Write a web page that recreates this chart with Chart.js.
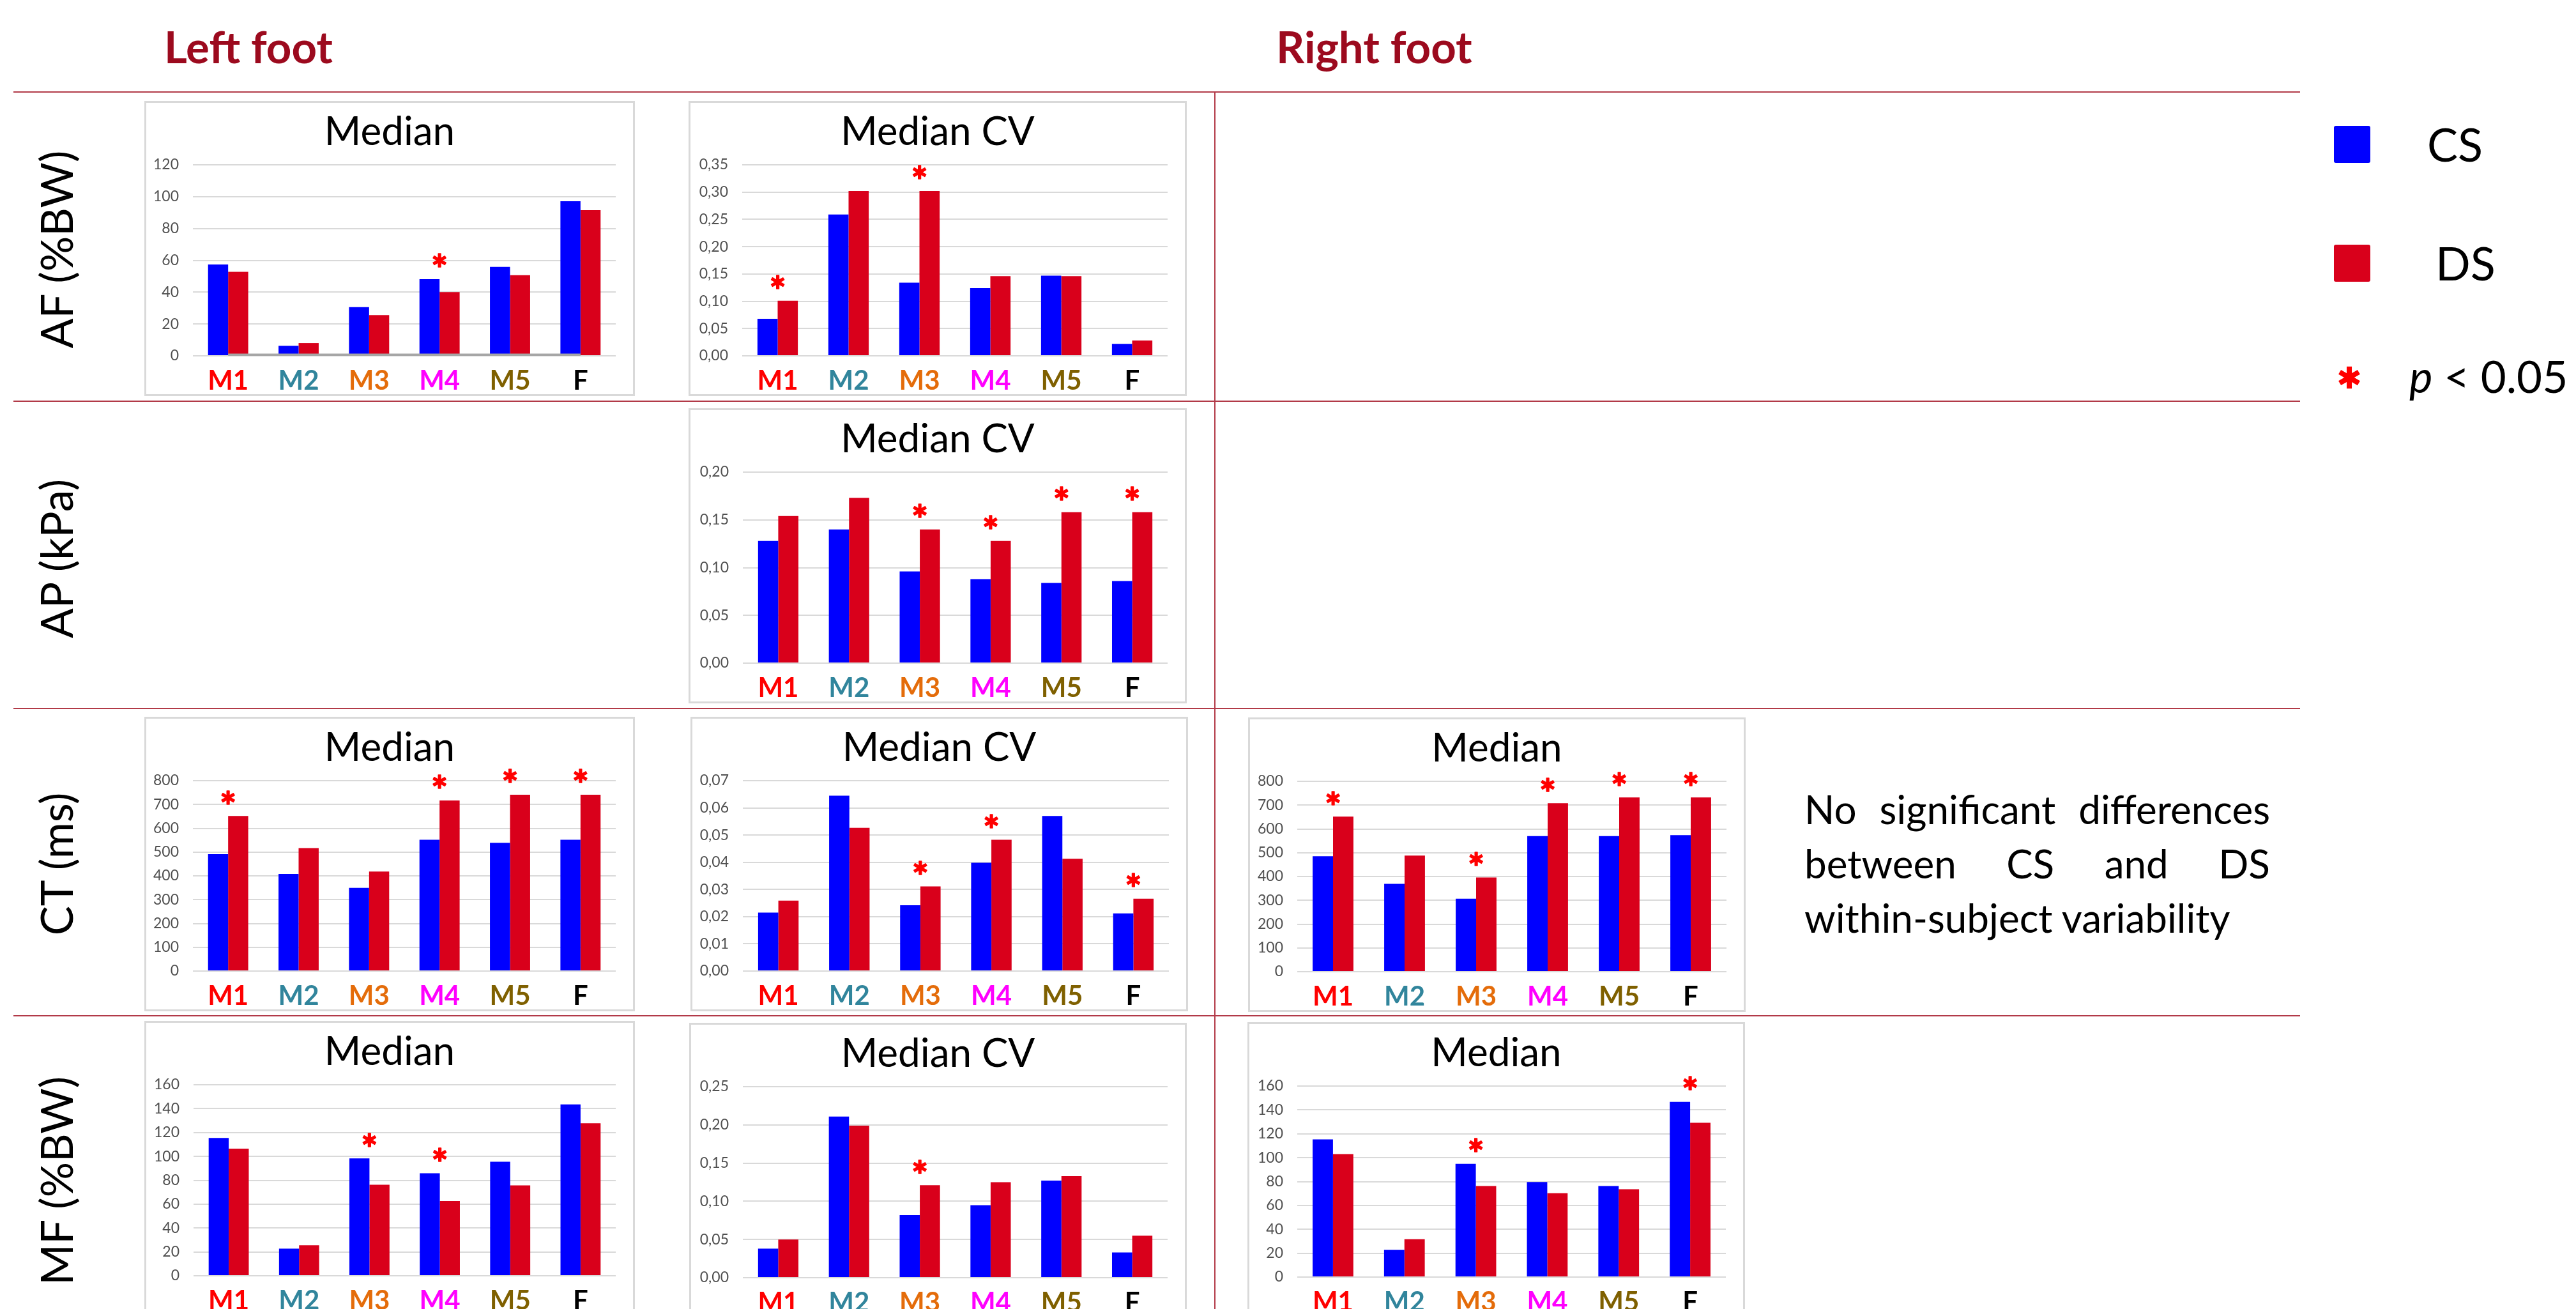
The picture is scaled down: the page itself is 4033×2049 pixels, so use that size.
<!DOCTYPE html>
<html>
<head>
<meta charset="utf-8">
<script src="https://cdn.jsdelivr.net/npm/chart.js"></script>
<style>
  html, body { margin: 0; padding: 0; background: #fff; }
  body { position: relative; width: 4033px; height: 2049px; overflow: hidden; font-family: Lato, sans-serif; }
  .rule { position: absolute; background: #B23A48; }
  .txt { position: absolute; white-space: pre; font-family: Lato, sans-serif; }
  .swatch { position: absolute; border-radius: 3px; }
  .note { position: absolute; font-family: Lato, sans-serif; color: #000; }
  .note div { white-space: nowrap; }
  .note .just { text-align: justify; text-align-last: justify; white-space: normal; }
</style>
</head>
<body>
<script>
// ---- categories and colours of the axis labels ----
const categories = ['M1', 'M2', 'M3', 'M4', 'M5', 'F'];
const categoryColors = ['#FF0000', '#31859C', '#E46C0A', '#FF00FF', '#7F6000', '#000000'];
const seriesNames = ['CS', 'DS'];

// ---- AF (%BW), left foot: median ----
const afLeftMedianCS = [57.4, 6.3, 30.6, 48.2, 55.9, 97.1];
const afLeftMedianDS = [52.8, 8.0, 25.6, 40.0, 50.7, 91.5];
const afLeftMedianRef = [0.4, 0.4, 0.4, 0.4, 0.4, 0.4];
const afLeftMedianSig = [0, 0, 0, 1, 0, 0];
const afMedianTicks = [0, 20, 40, 60, 80, 100, 120];

// ---- AF (%BW), left foot: median CV ----
const afLeftCvCS = [0.068, 0.259, 0.134, 0.124, 0.147, 0.022];
const afLeftCvDS = [0.101, 0.302, 0.302, 0.146, 0.146, 0.028];
const afLeftCvSig = [1, 0, 1, 0, 0, 0];
const afCvTicks = [0, 0.05, 0.10, 0.15, 0.20, 0.25, 0.30, 0.35];

// ---- AP (kPa), left foot: median CV ----
const apLeftCvCS = [0.128, 0.140, 0.096, 0.088, 0.084, 0.086];
const apLeftCvDS = [0.154, 0.173, 0.140, 0.128, 0.158, 0.158];
const apLeftCvSig = [0, 0, 1, 1, 1, 1];
const apCvTicks = [0, 0.05, 0.10, 0.15, 0.20];

// ---- CT (ms), left foot: median ----
const ctLeftMedianCS = [491, 408, 350, 552, 539, 552];
const ctLeftMedianDS = [652, 517, 418, 717, 741, 741];
const ctLeftMedianSig = [1, 0, 0, 1, 1, 1];
const ctMedianTicks = [0, 100, 200, 300, 400, 500, 600, 700, 800];

// ---- CT (ms), left foot: median CV ----
const ctLeftCvCS = [0.0215, 0.0645, 0.0242, 0.0398, 0.0570, 0.0212];
const ctLeftCvDS = [0.0259, 0.0527, 0.0311, 0.0483, 0.0413, 0.0266];
const ctLeftCvSig = [0, 0, 1, 1, 0, 1];
const ctCvTicks = [0, 0.01, 0.02, 0.03, 0.04, 0.05, 0.06, 0.07];

// ---- CT (ms), right foot: median ----
const ctRightMedianCS = [485, 369, 307, 570, 570, 574];
const ctRightMedianDS = [652, 488, 396, 708, 732, 732];
const ctRightMedianSig = [1, 0, 1, 1, 1, 1];

// ---- MF (%BW), left foot: median ----
const mfLeftMedianCS = [115.4, 22.8, 98.3, 85.9, 95.5, 143.5];
const mfLeftMedianDS = [106.5, 25.6, 76.3, 62.6, 75.7, 127.8];
const mfLeftMedianSig = [0, 0, 1, 1, 0, 0];
const mfMedianTicks = [0, 20, 40, 60, 80, 100, 120, 140, 160];

// ---- MF (%BW), left foot: median CV ----
const mfLeftCvCS = [0.038, 0.211, 0.082, 0.095, 0.127, 0.033];
const mfLeftCvDS = [0.050, 0.199, 0.121, 0.125, 0.133, 0.055];
const mfLeftCvSig = [0, 0, 1, 0, 0, 0];
const mfCvTicks = [0, 0.05, 0.10, 0.15, 0.20, 0.25];

// ---- MF (%BW), right foot: median ----
const mfRightMedianCS = [115.3, 22.8, 94.8, 79.6, 76.3, 146.8];
const mfRightMedianDS = [103.0, 31.7, 76.3, 70.2, 73.6, 129.2];
const mfRightMedianSig = [0, 0, 1, 0, 0, 1];

// ---- styling ----
const COLOR_CS = '#0000FF';
const COLOR_DS = '#D9001B';
const HEAD_RED = '#9C0A1E';
const FONT = 'Lato';

// size an asterisk so its glyph is `glyphH` px tall; return font size and
// the distance from the glyph centre down to the text baseline
function asteriskMetrics(glyphH) {
  const c = document.createElement('canvas').getContext('2d');
  c.font = `bold 100px ${FONT}`;
  const m = c.measureText('*');
  const h = m.actualBoundingBoxAscent + m.actualBoundingBoxDescent;
  const k = glyphH / h;
  return { size: 100 * k, toBaseline: (m.actualBoundingBoxAscent - m.actualBoundingBoxDescent) / 2 * k };
}

// ---- page furniture: rules, headings, legend, note ----
function rule(x, y, w, h) {
  const d = document.createElement('div');
  d.className = 'rule';
  d.style.cssText = `left:${x}px;top:${y}px;width:${w}px;height:${h}px;`;
  document.body.appendChild(d);
}
function text(str, x, baseline, size, o = {}) {
  const d = document.createElement('div');
  d.className = 'txt';
  if (o.html) d.innerHTML = str; else d.textContent = str;
  const lh = size * 1.2;
  let css = `font-size:${size}px;line-height:${lh}px;top:${baseline - 0.987 * size}px;` +
            `color:${o.color || '#000'};font-weight:${o.weight || 'normal'};`;
  if (o.stroke) css += `-webkit-text-stroke:${o.stroke}px ${o.color || '#000'};`;
  if (o.align === 'center') css += `left:${x - 1000}px;width:2000px;text-align:center;`;
  else css += `left:${x}px;`;
  d.style.cssText = css;
  document.body.appendChild(d);
  return d;
}
function vtext(str, cx, cy, size) {
  const d = document.createElement('div');
  d.className = 'txt';
  d.textContent = str;
  const lh = size * 1.2;
  d.style.cssText = `font-size:${size}px;line-height:${lh}px;width:700px;height:${lh}px;text-align:center;` +
                    `left:${cx - 350}px;top:${cy - lh / 2}px;transform:rotate(-90deg);`;
  document.body.appendChild(d);
}

rule(21, 143, 3580, 2);
rule(21, 627, 3580, 2);
rule(21, 1108, 3580, 2);
rule(21, 1589, 3580, 2);
rule(1901, 144, 2, 1905);

text('Left foot', 257, 100, 69, { weight: 'bold', color: HEAD_RED });
text('Right foot', 1998, 100, 69, { weight: 'bold', color: HEAD_RED });

vtext('AF (%BW)', 88, 390, 69);
vtext('AP (kPa)', 88, 874, 69);
vtext('CT (ms)', 88, 1352, 69);
vtext('MF (%BW)', 88, 1848, 69);

// legend
[[COLOR_CS, 197], [COLOR_DS, 383]].forEach(([c, y]) => {
  const s = document.createElement('div');
  s.className = 'swatch';
  s.style.cssText = `left:3654px;top:${y}px;width:57px;height:58px;background:${c};`;
  document.body.appendChild(s);
});
text(seriesNames[0], 3800, 253, 72);
text(seriesNames[1], 3813, 439, 72);
(function () {
  const a = asteriskMetrics(32);
  text('*', 3678, 591 + a.toBaseline, a.size, { align: 'center', weight: 'bold', color: '#FF0000', stroke: 2.5 });
})();
text('<i>p</i> &lt; 0.05', 3772, 616, 69, { html: true });

// note next to the CT row
(function () {
  const n = document.createElement('div');
  n.className = 'note';
  const size = 62, lh = 85;
  n.style.cssText = `left:2825px;top:${1290 - ((lh - 1.2 * size) / 2 + 0.987 * size)}px;width:729px;font-size:${size}px;line-height:${lh}px;`;
  n.innerHTML = '<div class="just">No significant differences</div>' +
                '<div class="just">between CS and DS</div>' +
                '<div>within-subject variability</div>';
  document.body.appendChild(n);
})();

// ---- chart panels ----
const STAR = asteriskMetrics(21);
const STAR_GAP = 29;    // from the taller bar top to the asterisk centre

const panelDecor = {
  id: 'panelDecor',
  beforeDraw(chart) {
    const { ctx, width, height } = chart;
    ctx.save();
    ctx.fillStyle = '#FFFFFF';
    ctx.fillRect(0, 0, width, height);
    ctx.strokeStyle = '#D9D9D9';
    ctx.lineWidth = 3;
    ctx.strokeRect(1.5, 1.5, width - 3, height - 3);
    ctx.restore();
  },
  afterDatasetsDraw(chart, args, opts) {
    const sig = opts.sig || [];
    const m0 = chart.getDatasetMeta(0), m1 = chart.getDatasetMeta(1);
    const { ctx } = chart;
    ctx.save();
    ctx.fillStyle = '#FF0000';
    ctx.strokeStyle = '#FF0000';
    ctx.lineWidth = 1.6;
    ctx.lineJoin = 'round';
    ctx.font = `bold ${STAR.size}px ${FONT}`;
    ctx.textAlign = 'center';
    ctx.textBaseline = 'alphabetic';
    sig.forEach((s, i) => {
      if (!s) return;
      const b0 = m0.data[i], b1 = m1.data[i];
      const x = (b0.x + b1.x) / 2;
      const top = Math.min(b0.y, b1.y);
      const y = top - STAR_GAP + STAR.toBaseline;
      ctx.fillText('*', x, y);
      ctx.strokeText('*', x, y);
    });
    ctx.restore();
  }
};

const RIGHT_GAP = 30;   // blank strip right of the plot
const TITLE_H = 100;    // room for the panel title
const XAXIS_H = 63;     // room for the category labels
const TITLE_SIZE = 62;

function panel(p) {
  const cv = document.createElement('canvas');
  cv.width = p.w; cv.height = p.h;
  cv.style.cssText = `position:absolute;left:${p.x}px;top:${p.y}px;width:${p.w}px;height:${p.h}px;`;
  document.body.appendChild(cv);

  const datasets = [
    { label: seriesNames[0], data: p.cs, backgroundColor: COLOR_CS, borderWidth: 0,
      categoryPercentage: 0.57, barPercentage: 1, order: 1 },
    { label: seriesNames[1], data: p.ds, backgroundColor: COLOR_DS, borderWidth: 0,
      categoryPercentage: 0.57, barPercentage: 1, order: 1 }
  ];
  if (p.ref) {
    datasets.push({ type: 'line', label: 'ref', data: p.ref, borderColor: '#A6A6A6', borderWidth: 5,
                    pointRadius: 0, fill: false, order: 0 });
  }
  const ticks = p.ticks;
  const fmt = p.cv ? v => v.toFixed(2).replace('.', ',') : v => String(v);

  new Chart(cv, {
    type: 'bar',
    data: { labels: categories, datasets },
    options: {
      responsive: false,
      animation: false,
      devicePixelRatio: 1,
      layout: { padding: 0 },
      plugins: {
        legend: { display: false },
        tooltip: { enabled: false },
        title: {
          display: true, text: p.title, color: '#000',
          font: { family: FONT, size: TITLE_SIZE, weight: 'normal', lineHeight: 1 },
          padding: { top: 18, bottom: TITLE_H - 18 - TITLE_SIZE }
        },
        panelDecor: { sig: p.sig }
      },
      scales: {
        x: {
          grid: { display: false },
          border: { display: false },
          ticks: {
            padding: 6,
            font: { family: FONT, size: 42, weight: 'bold' },
            color: ctx => categoryColors[ctx.index]
          },
          afterFit: s => { s.height = XAXIS_H; }
        },
        y: {
          min: ticks[0], max: ticks[ticks.length - 1],
          afterBuildTicks: s => { s.ticks = ticks.map(v => ({ value: v })); },
          grid: { color: '#D9D9D9', lineWidth: 2, drawTicks: false },
          border: { display: false },
          ticks: {
            padding: 22,
            font: { family: FONT, size: 23 },
            color: '#505050',
            callback: v => fmt(v)
          },
          afterFit: s => { s.width = p.plotLeft; }
        },
        // empty right-hand axis that only reserves the blank strip
        gap: {
          type: 'linear', position: 'right', display: true,
          grid: { display: false }, border: { display: false }, ticks: { display: false },
          afterFit: s => { s.width = RIGHT_GAP; }
        }
      }
    },
    plugins: [panelDecor]
  });
}

const panels = [
  { x: 226,  y: 158,  w: 768, h: 462, plotLeft: 76, title: 'Median',    cs: afLeftMedianCS,  ds: afLeftMedianDS,  sig: afLeftMedianSig,  ticks: afMedianTicks, ref: afLeftMedianRef },
  { x: 1078, y: 158,  w: 780, h: 462, plotLeft: 84, title: 'Median CV', cs: afLeftCvCS,      ds: afLeftCvDS,      sig: afLeftCvSig,      ticks: afCvTicks, cv: true },
  { x: 1078, y: 639,  w: 780, h: 462, plotLeft: 85, title: 'Median CV', cs: apLeftCvCS,      ds: apLeftCvDS,      sig: apLeftCvSig,      ticks: apCvTicks, cv: true },
  { x: 226,  y: 1122, w: 768, h: 461, plotLeft: 76, title: 'Median',    cs: ctLeftMedianCS,  ds: ctLeftMedianDS,  sig: ctLeftMedianSig,  ticks: ctMedianTicks },
  { x: 1081, y: 1122, w: 779, h: 461, plotLeft: 82, title: 'Median CV', cs: ctLeftCvCS,      ds: ctLeftCvDS,      sig: ctLeftCvSig,      ticks: ctCvTicks, cv: true },
  { x: 1954, y: 1123, w: 779, h: 461, plotLeft: 77, title: 'Median',    cs: ctRightMedianCS, ds: ctRightMedianDS, sig: ctRightMedianSig, ticks: ctMedianTicks },
  { x: 226,  y: 1598, w: 768, h: 462, plotLeft: 77, title: 'Median',    cs: mfLeftMedianCS,  ds: mfLeftMedianDS,  sig: mfLeftMedianSig,  ticks: mfMedianTicks },
  { x: 1079, y: 1601, w: 779, h: 462, plotLeft: 84, title: 'Median CV', cs: mfLeftCvCS,      ds: mfLeftCvDS,      sig: mfLeftCvSig,      ticks: mfCvTicks, cv: true },
  { x: 1953, y: 1600, w: 779, h: 462, plotLeft: 78, title: 'Median',    cs: mfRightMedianCS, ds: mfRightMedianDS, sig: mfRightMedianSig, ticks: mfMedianTicks }
];
panels.forEach(panel);
</script>
</body>
</html>
